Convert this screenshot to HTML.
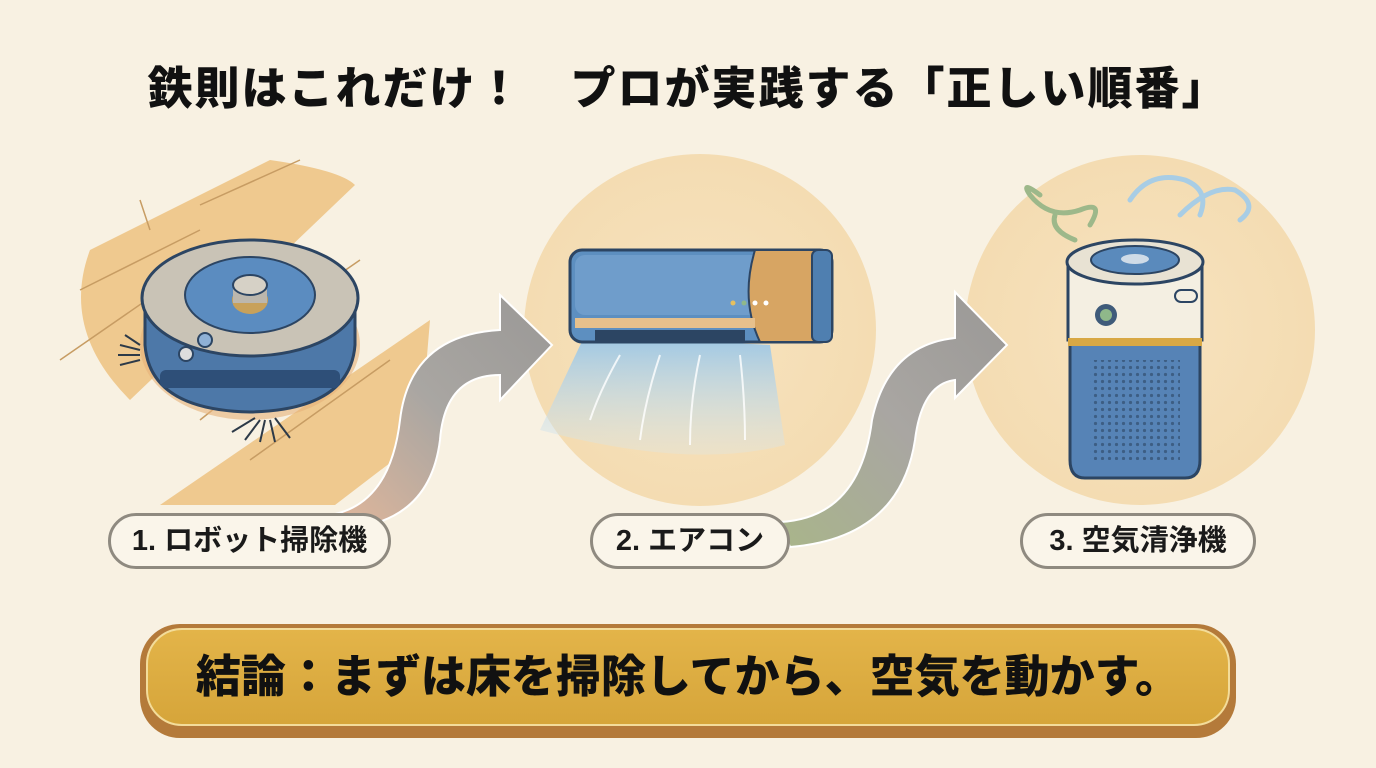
<!DOCTYPE html>
<html><head><meta charset="utf-8"><style>
html,body{margin:0;padding:0;background:#f8f1e2;}
body{width:1376px;height:768px;overflow:hidden;position:relative;font-family:"Liberation Sans","Noto Sans CJK JP",sans-serif;}
.t{position:absolute;left:0;width:1376px;top:52px;text-align:center;font-size:45px;font-weight:900;color:#111;letter-spacing:2px;}
.pill{position:absolute;height:56px;border:3px solid #8f8a80;border-radius:28px;background:#faf5ea;box-sizing:border-box;font-size:29px;font-weight:700;color:#1a1a1a;text-align:center;line-height:50px;}
.ban{position:absolute;left:140px;top:624px;width:1096px;height:114px;border-radius:40px;background:#b47a3a;}
.ban2{position:absolute;left:146px;top:628px;width:1084px;height:98px;border-radius:36px;background:linear-gradient(#e3b449,#d6a53a);border:2px solid #f3dc9a;box-sizing:border-box;font-size:45px;font-weight:900;color:#111;text-align:center;line-height:94px;}
</style></head><body>
<svg width="1376" height="768" style="position:absolute;left:0;top:0">
<defs>
<radialGradient id="c" cx="50%" cy="50%" r="50%"><stop offset="0" stop-color="#f7e3bf"/><stop offset="1" stop-color="#f4dcb2"/></radialGradient>
<linearGradient id="ar" x1="0" y1="1" x2="1" y2="0"><stop offset="0" stop-color="#e3b79a"/><stop offset="0.5" stop-color="#a9a6a2"/><stop offset="1" stop-color="#9a9896"/></linearGradient>
<linearGradient id="ar2" x1="0" y1="1" x2="1" y2="0"><stop offset="0" stop-color="#a9b58a"/><stop offset="0.5" stop-color="#a9a6a2"/><stop offset="1" stop-color="#9a9896"/></linearGradient>
<linearGradient id="air" x1="0" y1="0" x2="0" y2="1"><stop offset="0" stop-color="#9cc6e4"/><stop offset="1" stop-color="#d9e8ee" stop-opacity="0.3"/></linearGradient>
<pattern id="dots" width="7" height="7" patternUnits="userSpaceOnUse"><circle cx="3.5" cy="3.5" r="1.6" fill="#2c4563"/></pattern>
</defs>
<path d="M90 250 L270 160 Q340 170 355 185 L130 400 Q60 330 90 250Z" fill="#efc98f"/>
<path d="M160 505 L430 320 L420 440 L335 505Z" fill="#efc98f"/>
<path d="M80 290 L200 230 M60 360 L190 270 M150 230 L140 200 M200 205 L300 160 M230 350 L360 260 M200 420 L300 340 M250 460 L390 360" stroke="#c79c63" stroke-width="1.5"/>
<ellipse cx="250" cy="345" rx="110" ry="75" fill="#e6b37a" opacity="0.6"/>
<path d="M145 300 L145 345 Q150 410 250 412 Q350 410 355 345 L355 300Z" fill="#4d78a8" stroke="#2c4563" stroke-width="3"/>
<rect x="160" y="370" width="180" height="18" rx="6" fill="#2e4f78"/>
<ellipse cx="250" cy="298" rx="108" ry="58" fill="#c9c3b6" stroke="#2c4563" stroke-width="3"/>
<ellipse cx="250" cy="295" rx="65" ry="38" fill="#5b8cc0" stroke="#2c4563" stroke-width="2"/>
<ellipse cx="250" cy="300" rx="18" ry="14" fill="#c8a15a"/>
<rect x="233" y="285" width="34" height="18" fill="#bcb7ad"/>
<ellipse cx="250" cy="285" rx="17" ry="10" fill="#d6d1c6" stroke="#2c4563" stroke-width="2"/>
<circle cx="205" cy="340" r="7" fill="#8fb1d6" stroke="#2c4563" stroke-width="2"/>
<circle cx="186" cy="354" r="7" fill="#ddd" stroke="#2c4563" stroke-width="2"/>
<g stroke="#2d3a48" stroke-width="2">
<path d="M140 350 L120 345 M140 355 L118 355 M140 360 L120 365 M140 345 L125 335"/>
<path d="M260 420 L245 440 M265 420 L260 442 M270 420 L275 442 M275 418 L290 438 M255 418 L232 432"/>
</g>
<circle cx="700" cy="330" r="176" fill="url(#c)"/>
<path d="M585 335 L770 345 L785 445 Q690 470 540 430Z" fill="url(#air)"/>
<g stroke="#fff" stroke-width="2" fill="none" opacity="0.8"><path d="M620 355 Q600 390 590 420 M660 355 Q645 400 640 440 M700 355 Q690 400 690 445 M740 355 Q745 400 745 440"/></g>
<rect x="570" y="250" width="262" height="92" rx="12" fill="#5d8fc0" stroke="#2c4563" stroke-width="3"/>
<rect x="575" y="255" width="250" height="60" rx="10" fill="#6f9dcb"/>
<path d="M755 250 L815 250 L815 342 L760 342 Q740 300 755 250Z" fill="#d7a563" stroke="#2c4563" stroke-width="2"/>
<rect x="812" y="250" width="20" height="92" rx="6" fill="#4f7fb0" stroke="#2c4563" stroke-width="2"/>
<rect x="575" y="318" width="180" height="10" fill="#e6c08c"/>
<rect x="595" y="330" width="150" height="12" fill="#2c4563"/>
<circle cx="733" cy="303" r="2.5" fill="#e6c060"/><circle cx="744" cy="303" r="2.5" fill="#8fb88a"/><circle cx="755" cy="303" r="2.5" fill="#fff"/><circle cx="766" cy="303" r="2.5" fill="#fff"/>
<circle cx="1140" cy="330" r="175" fill="url(#c)"/>
<g fill="none" stroke-width="5" stroke-linecap="round">
<path d="M1040 195 Q1020 180 1030 195 Q1050 220 1080 210 Q1105 200 1090 225" stroke="#9db88a"/>
<path d="M1130 200 Q1150 170 1185 180 Q1210 190 1200 215" stroke="#a8cde5"/>
<path d="M1180 215 Q1210 185 1235 190 Q1260 205 1240 220" stroke="#a8cde5"/>
<path d="M1075 240 Q1050 230 1055 215" stroke="#9db88a"/>
</g>
<path d="M1070 260 L1200 260 L1200 460 Q1200 478 1185 478 L1085 478 Q1070 478 1070 460Z" fill="#5683b6" stroke="#2c4563" stroke-width="3"/>
<path d="M1068 262 L1202 262 L1202 340 L1068 340Z" fill="#f4efe2" stroke="#2c4563" stroke-width="3"/>
<rect x="1068" y="338" width="134" height="8" fill="#d8a845"/>
<ellipse cx="1135" cy="262" rx="68" ry="22" fill="#e8e2d3" stroke="#2c4563" stroke-width="3"/>
<ellipse cx="1135" cy="260" rx="44" ry="14" fill="#5a8abc" stroke="#2c4563" stroke-width="2"/>
<ellipse cx="1135" cy="259" rx="14" ry="5" fill="#cfdbe7"/>
<circle cx="1106" cy="315" r="11" fill="#3f5b7a"/><circle cx="1106" cy="315" r="6" fill="#8fb88a"/>
<rect x="1175" y="290" width="22" height="12" rx="6" fill="none" stroke="#2c4563" stroke-width="2"/>
<rect x="1090" y="360" width="90" height="100" fill="url(#dots)" opacity="0.6"/>
<path d="M330 515 Q390 505 400 420 Q410 335 500 330 L500 295 L552 345 L500 400 L500 375 Q445 375 440 440 Q430 520 350 528Z" fill="url(#ar)" stroke="#fff" stroke-width="2"/>
<path d="M780 522 Q860 518 872 420 Q888 345 955 338 L955 292 L1007 345 L955 398 L955 380 Q922 384 915 440 Q900 538 790 547Z" fill="url(#ar2)" stroke="#fff" stroke-width="2"/>
</svg>
<div class="t">鉄則はこれだけ！　プロが実践する「正しい順番」</div>
<div class="pill" style="left:108px;top:513px;width:283px;">1. ロボット掃除機</div>
<div class="pill" style="left:590px;top:513px;width:200px;">2. エアコン</div>
<div class="pill" style="left:1020px;top:513px;width:236px;">3. 空気清浄機</div>
<div class="ban"></div>
<div class="ban2">結論：まずは床を掃除してから、空気を動かす。</div>
</body></html>
